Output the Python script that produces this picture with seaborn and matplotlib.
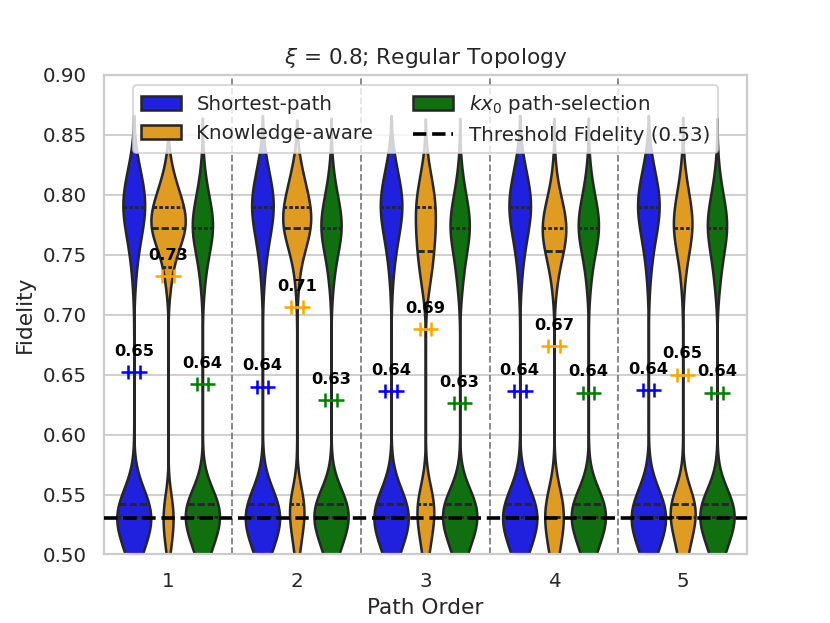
import numpy as np
import pandas as pd
import seaborn as sns
import matplotlib
matplotlib.use("Agg")
import matplotlib.pyplot as plt
from matplotlib.lines import Line2D

# categories
path_orders = ["1", "2", "3", "4", "5"]
methods = ["Shortest-path", "Knowledge-aware", "$kx_0$ path-selection"]
colors = ["blue", "orange", "green"]
threshold = 0.53

# fidelity levels the samples fall on
levels = [0.49, 0.50, 0.51, 0.52, 0.531, 0.542, 0.55, 0.56,
          0.72, 0.73, 0.74, 0.753, 0.762, 0.772, 0.78, 0.79, 0.80, 0.81, 0.82, 0.83]

# number of samples per level, one row per path order
shortest_counts = [
    [3, 7, 14, 22, 26, 29, 7, 4, 1, 2, 3, 5, 7, 8, 10, 18, 13, 10, 7, 4],
    [3, 7, 14, 22, 26, 30, 7, 4, 1, 2, 3, 5, 7, 8, 10, 18, 13, 9, 7, 4],
    [3, 7, 14, 22, 26, 30, 7, 4, 1, 2, 3, 5, 7, 8, 10, 18, 13, 9, 7, 4],
    [3, 7, 14, 22, 26, 30, 7, 4, 1, 2, 3, 5, 7, 8, 10, 18, 13, 9, 7, 4],
    [3, 7, 14, 22, 26, 30, 7, 4, 1, 2, 3, 5, 7, 8, 10, 18, 13, 9, 7, 4],
]
knowledge_counts = [
    [0, 2, 5, 8, 10, 8, 3, 0, 3, 5, 8, 14, 20, 26, 26, 24, 18, 11, 6, 3],
    [1, 3, 6, 9, 12, 20, 5, 2, 2, 3, 5, 10, 16, 22, 22, 22, 16, 12, 8, 4],
    [2, 4, 8, 11, 14, 22, 7, 4, 5, 8, 12, 14, 13, 13, 12, 18, 14, 10, 6, 3],
    [4, 7, 10, 13, 20, 18, 8, 4, 3, 5, 7, 16, 18, 20, 18, 14, 8, 4, 2, 1],
    [4, 8, 11, 14, 22, 42, 3, 2, 2, 3, 5, 9, 13, 16, 15, 13, 9, 5, 3, 1],
]
kx0_counts = [
    [3, 7, 14, 22, 26, 35, 7, 4, 2, 3, 5, 8, 11, 16, 13, 10, 7, 4, 2, 1],
    [3, 7, 14, 22, 26, 35, 7, 4, 2, 3, 5, 8, 11, 16, 13, 10, 7, 4, 2, 1],
    [3, 7, 14, 22, 26, 35, 7, 4, 3, 4, 6, 8, 10, 15, 12, 10, 7, 4, 2, 1],
    [3, 7, 14, 22, 26, 35, 7, 4, 2, 3, 5, 8, 11, 16, 13, 10, 7, 4, 2, 1],
    [3, 7, 14, 22, 26, 35, 7, 4, 3, 4, 6, 8, 10, 15, 12, 10, 7, 4, 2, 1],
]

# mean fidelity shown by the "+" markers
mean_shortest = [0.652, 0.640, 0.636, 0.636, 0.637]
mean_knowledge = [0.732, 0.706, 0.688, 0.674, 0.650]
mean_kx0 = [0.642, 0.629, 0.626, 0.635, 0.635]

# build long table
rows = []
for method, counts in zip(methods, [shortest_counts, knowledge_counts, kx0_counts]):
    for order, c in zip(path_orders, counts):
        vals = np.repeat(levels, c)
        rows.append(pd.DataFrame({"Path Order": order, "Fidelity": vals, "Method": method}))
df = pd.concat(rows, ignore_index=True)

sns.set_theme(style="whitegrid")
fig, ax = plt.subplots(figsize=(830 / 130, 623 / 130))

sns.violinplot(data=df, x="Path Order", y="Fidelity", hue="Method",
               order=path_orders, hue_order=methods, palette=colors,
               inner="quart", bw_adjust=0.4, linewidth=1.4,
               inner_kws=dict(linewidth=1.6), ax=ax)

# means with labels
n_hue = len(methods)
w = 0.8 / n_hue
for j, (means, col) in enumerate(zip([mean_shortest, mean_knowledge, mean_kx0], colors)):
    for i, m in enumerate(means):
        xc = i - 0.4 + w / 2 + j * w
        ax.scatter([xc - 0.045, xc + 0.045], [m, m], marker="+", s=65,
                   color=col, linewidths=1.4, zorder=5)
        ax.text(xc, m + 0.011, f"{m:.2f}", ha="center", va="bottom",
                fontsize=9, fontweight="bold", color="black", zorder=6)

ax.axhline(threshold, color="black", linestyle="--", linewidth=2, zorder=4)
for i in range(len(path_orders) - 1):
    ax.axvline(i + 0.5, color="gray", linestyle="--", linewidth=1)

ax.set_ylim(0.5, 0.9)
ax.set_xlim(-0.5, len(path_orders) - 0.5)
ax.set_yticks(np.arange(0.5, 0.901, 0.05))
ax.set_yticklabels([f"{v:.2f}" for v in np.arange(0.5, 0.901, 0.05)])
ax.set_xlabel("Path Order")
ax.set_ylabel("Fidelity")
ax.set_title(r"$\xi$ = 0.8; Regular Topology")

handles = list(ax.legend_.legend_handles)
handles.append(Line2D([], [], color="black", linestyle="--", linewidth=2))
ax.legend(handles=handles, labels=methods + [f"Threshold Fidelity ({threshold})"],
          loc="upper center", ncol=2)

fig.savefig("out.png", dpi=130)
